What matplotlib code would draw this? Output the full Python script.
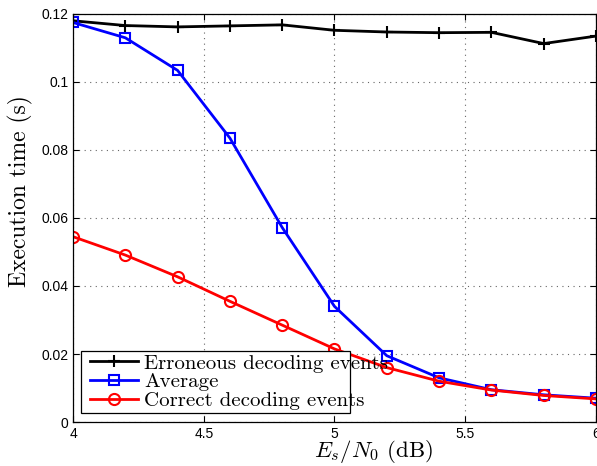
import matplotlib
matplotlib.use("Agg")
import matplotlib.pyplot as plt
from matplotlib.patches import Rectangle

snr = [4.0, 4.2, 4.4, 4.6, 4.8, 5.0, 5.2, 5.4, 5.6, 5.8, 6.0]
erroneous = [0.1180, 0.1166, 0.1162, 0.1165, 0.1168, 0.1152, 0.1147, 0.1145, 0.1146, 0.1113, 0.1135]
average = [0.1175, 0.1130, 0.1034, 0.0835, 0.0572, 0.0340, 0.0195, 0.0130, 0.0095, 0.0080, 0.0070]
correct = [0.0545, 0.0491, 0.0427, 0.0355, 0.0285, 0.0215, 0.0160, 0.0120, 0.0094, 0.0078, 0.0068]

plt.rcParams['mathtext.fontset'] = 'cm'
plt.rcParams['font.family'] = ['Liberation Sans', 'DejaVu Sans']

fig = plt.figure(figsize=(5.97, 4.66), dpi=100)
ax = fig.add_axes([0.1223, 0.0944, 0.8760, 0.8756])

ax.plot(snr, erroneous, color='black', marker='+', markersize=9, markeredgewidth=1.5, linewidth=2,
        label='Erroneous decoding events')
ax.plot(snr, average, color='blue', marker='s', markersize=6.5, markerfacecolor='none',
        markeredgewidth=1.5, linewidth=2, label='Average')
ax.plot(snr, correct, color='red', marker='o', markersize=8, markerfacecolor='none',
        markeredgewidth=1.5, linewidth=2, label='Correct decoding events')

ax.set_xlim(4, 6)
ax.set_ylim(0, 0.12)
ax.set_xticks([4, 4.5, 5, 5.5, 6])
ax.set_xticklabels(['4', '4.5', '5', '5.5', '6'])
ax.set_yticks([0, 0.02, 0.04, 0.06, 0.08, 0.1, 0.12])
ax.set_yticklabels(['0', '0.02', '0.04', '0.06', '0.08', '0.1', '0.12'])
ax.tick_params(direction='in', top=True, right=True, labelsize=10, length=4, width=0.8)
ax.grid(True, linestyle=(0, (1, 4)), color='#666666', linewidth=0.8)
for s in ax.spines.values():
    s.set_linewidth(0.9)

ax.set_xlabel(r'$E_s/N_0$ (dB)', fontsize=16.5, family='cmr10')
ax.xaxis.set_label_coords(0.574, -0.040, transform=ax.transAxes)
ax.xaxis.label.set_verticalalignment('top')
ax.set_ylabel('Execution time (s)', fontsize=17, family='cmr10')
ax.yaxis.set_label_coords(-0.077, 0.566, transform=ax.transAxes)

# legend box (text overflows the frame as in the original)
ax.add_patch(Rectangle((0.0153, 0.022), 0.5143, 0.152, transform=ax.transAxes,
                       facecolor='white', edgecolor='black', linewidth=0.9, zorder=4.5))
leg = ax.legend(loc='center left', bbox_to_anchor=(0.0325, 0.098), prop={'family': 'cmr10', 'size': 15},
                frameon=False, borderpad=0, borderaxespad=0,
                labelspacing=0.0, handlelength=2.3, handletextpad=0.3)
leg.set_zorder(5)

fig.savefig('out.png', dpi=100)
